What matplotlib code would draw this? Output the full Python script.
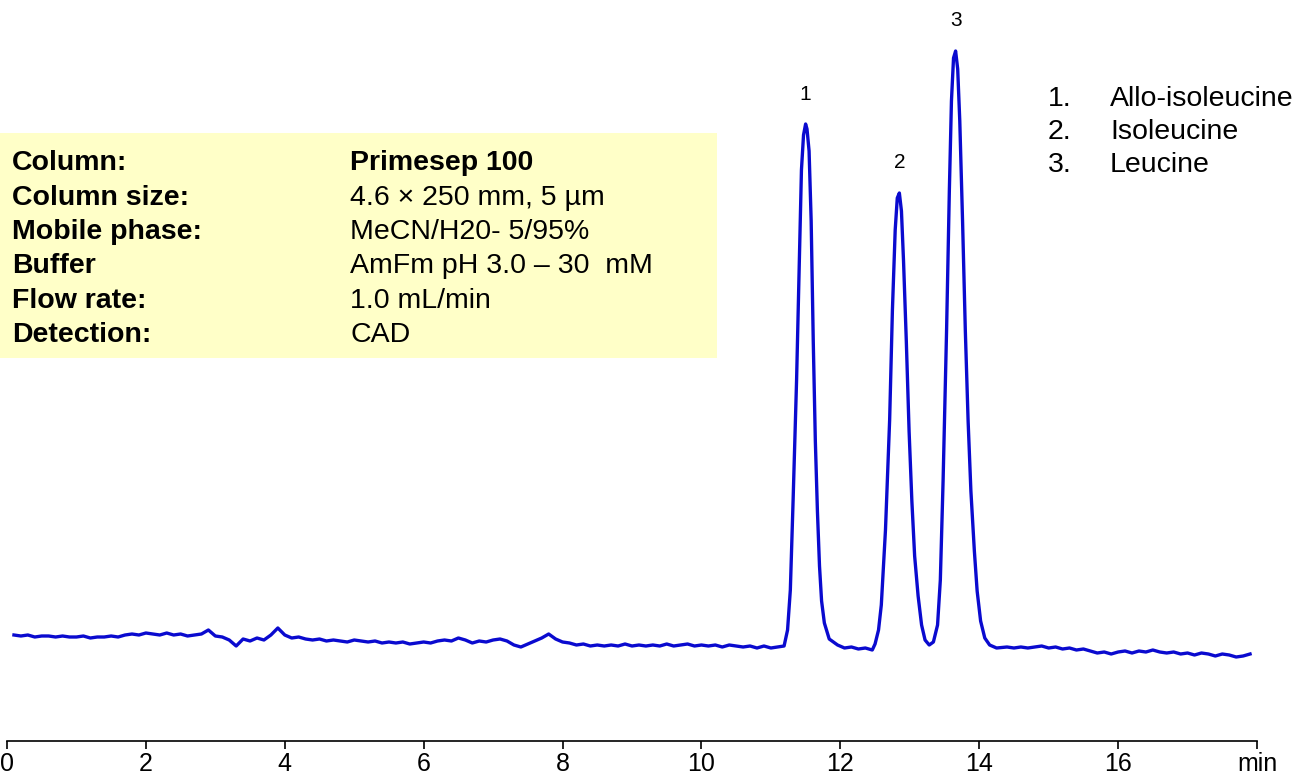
import numpy as np
import matplotlib
matplotlib.use('Agg')
import matplotlib.pyplot as plt
from matplotlib.patches import Rectangle

# chromatogram: time in min, detector signal in arbitrary units
time_min = [0.1, 0.2, 0.3, 0.4, 0.5, 0.6, 0.7, 0.8, 0.9, 1.0,
            1.1, 1.2, 1.3, 1.4, 1.5, 1.6, 1.7, 1.8, 1.9, 2.0,
            2.1, 2.2, 2.3, 2.4, 2.5, 2.6, 2.7, 2.8, 2.9, 3.0,
            3.1, 3.2, 3.3, 3.4, 3.5, 3.6, 3.7, 3.8, 3.9, 4.0,
            4.1, 4.2, 4.3, 4.4, 4.5, 4.6, 4.7, 4.8, 4.9, 5.0,
            5.1, 5.2, 5.3, 5.4, 5.5, 5.6, 5.7, 5.8, 5.9, 6.0,
            6.1, 6.2, 6.3, 6.4, 6.5, 6.6, 6.7, 6.8, 6.9, 7.0,
            7.1, 7.2, 7.3, 7.4, 7.5, 7.6, 7.7, 7.8, 7.9, 8.0,
            8.1, 8.2, 8.3, 8.4, 8.5, 8.6, 8.7, 8.8, 8.9, 9.0,
            9.1, 9.2, 9.3, 9.4, 9.5, 9.6, 9.7, 9.8, 9.9, 10.0,
            10.1, 10.2, 10.3, 10.4, 10.5, 10.6, 10.7, 10.8, 10.9, 11.0,
            11.1,
            11.19, 11.24, 11.28, 11.32, 11.37, 11.41, 11.44, 11.47, 11.50, 11.52,
            11.55, 11.58, 11.61, 11.64, 11.67, 11.70, 11.73, 11.77, 11.84, 11.96,
            12.06, 12.16, 12.26, 12.36, 12.46,
            12.50, 12.55, 12.59, 12.65, 12.71, 12.75, 12.79, 12.82, 12.85, 12.88,
            12.91, 12.95, 12.99, 13.03, 13.07, 13.12, 13.17, 13.22, 13.28,
            13.34, 13.40, 13.44, 13.48, 13.53, 13.57, 13.60, 13.63, 13.66, 13.69,
            13.72, 13.76, 13.80, 13.84, 13.88, 13.93, 13.97, 14.02, 14.08, 14.15,
            14.25,
            14.4, 14.5, 14.6, 14.7, 14.8, 14.9, 15.0,
            15.1, 15.2, 15.3, 15.4, 15.5, 15.6, 15.7, 15.8, 15.9, 16.0,
            16.1, 16.2, 16.3, 16.4, 16.5, 16.6, 16.7, 16.8, 16.9, 17.0,
            17.1, 17.2, 17.3, 17.4, 17.5, 17.6, 17.7, 17.8, 17.9]
signal = [106, 105, 106, 104, 105, 105, 104, 105, 104, 104,
          105, 103, 104, 104, 105, 104, 106, 107, 106, 108,
          107, 106, 108, 106, 107, 105, 106, 107, 111, 105,
          104, 101, 95, 102, 100, 103, 101, 106, 113, 106,
          103, 104, 102, 101, 102, 100, 101, 100, 99, 101,
          100, 99, 100, 98, 99, 98, 99, 97, 98, 99,
          98, 100, 101, 100, 103, 101, 98, 100, 99, 101,
          102, 100, 96, 94, 97, 100, 103, 107, 102, 99,
          98, 96, 97, 95, 96, 95, 96, 95, 97, 95,
          96, 95, 96, 95, 97, 95, 96, 97, 95, 96,
          95, 96, 94, 96, 95, 94, 95, 93, 95, 93,
          94,
          95, 111, 151, 241, 361, 481, 571, 606, 617, 612,
          590, 520, 400, 300, 230, 175, 140, 118, 102, 96,
          93, 94, 92, 93, 91,
          97, 111, 136, 211, 321, 431, 511, 543, 548, 530,
          480, 400, 310, 240, 185, 145, 116, 101, 96,
          99, 116, 161, 261, 411, 551, 640, 683, 690, 672,
          620, 520, 410, 320, 250, 190, 150, 120, 103, 96,
          93,
          94, 93, 94, 93, 94, 95, 93,
          94, 92, 93, 91, 92, 90, 88, 89, 87, 89,
          90, 88, 90, 89, 91, 89, 88, 89, 87, 88,
          86, 88, 87, 85, 87, 86, 84, 85, 87]

peak_ids = ['1', '2', '3']
peak_time = [11.50, 12.85, 13.66]
peak_label_y = [646, 578, 720]

compounds = ['Allo-isoleucine', 'Isoleucine', 'Leucine']

cond_names = ['Column:', 'Column size:', 'Mobile phase:', 'Buffer', 'Flow rate:', 'Detection:']
cond_values = ['Primesep 100', '4.6 \u00d7 250 mm, 5 \u00b5m', 'MeCN/H20- 5/95%',
               'AmFm pH 3.0 \u2013 30  mM', '1.0 mL/min', 'CAD']

tick_pos = [0, 2, 4, 6, 8, 10, 12, 14, 16, 18]
tick_lab = ['0', '2', '4', '6', '8', '10', '12', '14', '16', 'min']

plt.rcParams['font.family'] = ['Liberation Sans', 'DejaVu Sans']

W, H = 1297, 774
fig = plt.figure(figsize=(W / 100, H / 100), dpi=100)
ax = fig.add_axes([7 / W, 33 / H, 1250 / W, 741 / H])
ax.plot(time_min, signal, color='#0A0ACF', lw=2.4)
ax.set_xlim(0, 18)
ax.set_ylim(0, 741)
for s in ['left', 'right', 'top']:
    ax.spines[s].set_visible(False)
ax.spines['bottom'].set_linewidth(1.2)
ax.set_yticks([])
ax.set_xticks(tick_pos)
ax.set_xticklabels(tick_lab, fontsize=18)
ax.tick_params(axis='x', direction='out', length=6, width=1.2, pad=2)

for pid, pt, py in zip(peak_ids, peak_time, peak_label_y):
    ax.text(pt, py, pid, ha='center', va='center', fontsize=15)

# legend of compounds, top right
for i, name in enumerate(compounds):
    yy = 1 - (99 + 33 * i) / H
    fig.text(1048 / W, yy, f'{i + 1}.', ha='left', va='center', fontsize=20.5)
    fig.text(1110 / W, yy, name, ha='left', va='center', fontsize=20.5)

# conditions box
fig.patches.append(Rectangle((0, 1 - 358 / H), 717 / W, 225 / H, transform=fig.transFigure,
                             facecolor='#FFFFC8', edgecolor='none', zorder=0))
row_y = [163, 198, 232, 266, 301, 335]
for i, (n, v) in enumerate(zip(cond_names, cond_values)):
    yy = 1 - row_y[i] / H
    fig.text(12 / W, yy, n, ha='left', va='center', fontsize=20.5, fontweight='bold')
    fig.text(350 / W, yy, v, ha='left', va='center', fontsize=20.5,
             fontweight='bold' if i == 0 else 'normal')

fig.savefig('out.png', dpi=100)
